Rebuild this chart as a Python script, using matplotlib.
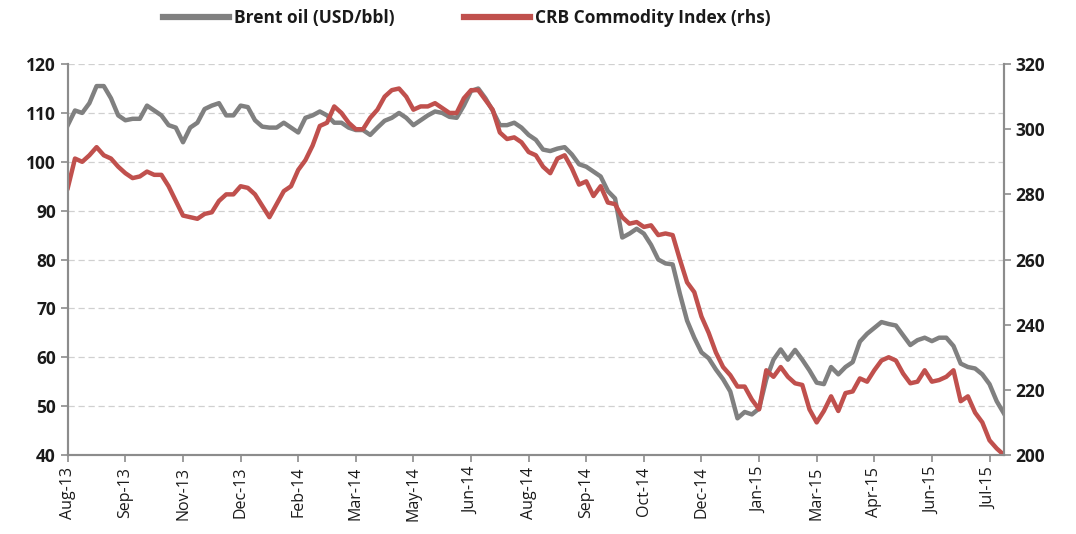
import matplotlib
matplotlib.use("Agg")
import matplotlib.pyplot as plt
from matplotlib.lines import Line2D
import numpy as np

# Series, 8 samples per x-axis tick interval
brent = [
    107.5, 110.5, 110, 112, 115.5, 115.5, 113, 109.5, 108.5, 108.8, 108.8, 111.5,
    110.5, 109.5, 107.5, 107, 104, 107, 108, 110.8, 111.5, 112, 109.5,
    109.5, 111.5, 111.2, 108.5, 107.2, 107, 107, 108, 107, 106, 109, 109.5,
    110.3, 109.5, 108, 108, 107, 106.5, 106.5, 105.5, 107, 108.4,
    109, 110, 109, 107.5, 108.5, 109.5, 110.3, 110, 109.2, 109, 111.5, 114.5,
    115, 113, 110.5, 107.5, 107.5, 108, 107, 105.5, 104.5, 102.5,
    102.2, 102.7, 103, 101.5, 99.5, 99, 98, 97, 94, 92.5, 84.5, 85.3,
    86.3, 85.3, 83, 80, 79.2, 79, 73,
    67.5, 64, 61, 59.8, 57.5, 55.5, 53, 47.5, 48.8, 48.3, 49.5, 55.5,
    59.5, 61.6, 59.5, 61.5, 59.5, 57.3, 54.8, 54.5, 58, 56.5,
    58, 59, 63.2, 64.8, 66, 67.2, 66.8, 66.5, 64.5, 62.5, 63.5, 64,
    63.3, 64, 64, 62.3, 58.7, 58, 57.7, 56.5, 54.5, 51, 48.5,
]
crb = [
    282, 291, 290, 292, 294.5, 292, 291, 288.5, 286.5, 285, 285.5, 287,
    286, 286, 282.5, 278, 273.5, 273, 272.5, 274, 274.5, 278, 280,
    280, 282.5, 282, 280, 276.5, 273, 277, 281, 282.5, 287.5, 290.5, 295,
    301, 302, 307, 305, 302, 300, 300, 303.5, 306, 310,
    312, 312.5, 310, 306, 307, 307, 308, 306.5, 305, 305, 309.5, 312,
    312, 309, 306, 299, 297, 297.5, 296, 293, 292, 288.5,
    286.5, 291, 292, 288, 283, 284, 279.5, 282.5, 277.5, 277, 273, 271,
    271.5, 270, 270.5, 267.5, 268, 267.5, 260,
    253, 250, 242.5, 237.5, 231.5, 227, 224.5, 221, 221, 217, 214, 226,
    224, 227, 224, 222, 221.5, 214, 210, 213.5, 218, 213.5,
    219, 219.5, 223.5, 222.5, 226, 229, 230, 229, 225, 222, 222.5, 226,
    222.5, 223, 224, 226, 216.5, 218, 213, 210, 204.5, 202, 200,
]
tick_labels = [
    "Aug-13", "Sep-13", "Nov-13", "Dec-13", "Feb-14", "Mar-14", "May-14",
    "Jun-14", "Aug-14", "Sep-14", "Oct-14", "Dec-14", "Jan-15", "Mar-15",
    "Apr-15", "Jun-15", "Jul-15",
]
samples_per_tick = 8

grey = "#808080"
red = "#C0504D"
text_col = "#1a1a1a"
plt.rcParams["font.family"] = ["Open Sans", "DejaVu Sans"]

x = np.arange(len(brent))

fig = plt.figure(figsize=(10.76, 5.34), dpi=100)
ax = fig.add_axes([0.063, 0.148, 0.870, 0.732])
ax2 = ax.twinx()

ax.plot(x, brent, color=grey, lw=3.2, solid_joinstyle="round")
ax2.plot(x, crb, color=red, lw=3.2, solid_joinstyle="round")

ax.set_xlim(0, len(brent) - 1)
ax.set_ylim(40, 120)
ax.set_yticks(range(40, 121, 10))
ax2.set_ylim(200, 320)
ax2.set_yticks(range(200, 321, 20))

ax.set_xticks(np.arange(len(tick_labels)) * samples_per_tick)
ax.set_xticklabels(tick_labels, rotation=90, fontsize=11.5, color=text_col)

ax.grid(axis="y", linestyle=(0, (5, 3)), color="#d0d0d0", lw=0.9)
ax.set_axisbelow(True)

for a in (ax, ax2):
    a.spines["top"].set_visible(False)
    for s in ("left", "right", "bottom"):
        a.spines[s].set_color("#8c8c8c")
        a.spines[s].set_linewidth(1.5)
    a.tick_params(colors="#8c8c8c", length=5, width=1.2, direction="out")
for lab in ax.get_yticklabels() + ax2.get_yticklabels():
    lab.set_fontsize(12.5)
    lab.set_fontweight("bold")
    lab.set_color(text_col)
for lab in ax.get_xticklabels():
    lab.set_color(text_col)

handles = [
    Line2D([], [], color=grey, lw=4.5),
    Line2D([], [], color=red, lw=4.5),
]
fig.legend(handles, ["Brent oil (USD/bbl)", "CRB Commodity Index (rhs)"],
           loc="center", bbox_to_anchor=(0.434, 0.966), ncol=2, frameon=False,
           handlelength=3.8, handletextpad=0.3, columnspacing=4.0,
           prop={"size": 12.5, "weight": "bold"}, labelcolor=text_col)

fig.savefig("out.png", dpi=100)
